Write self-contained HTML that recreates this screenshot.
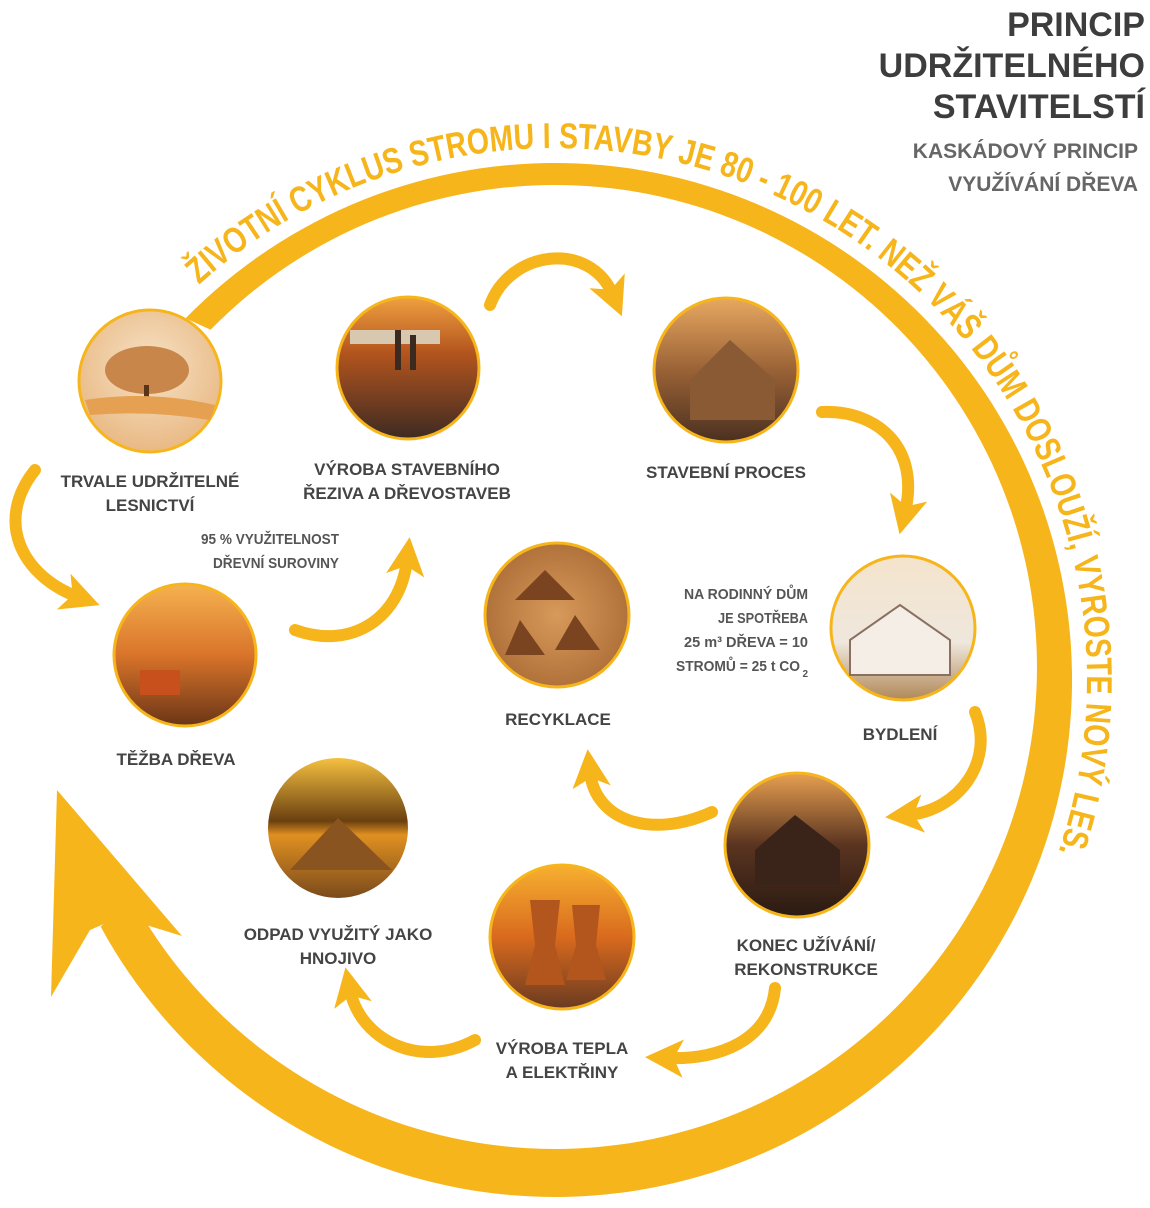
<!DOCTYPE html>
<html><head><meta charset="utf-8"><style>
html,body{margin:0;padding:0;background:#fff;}
body{width:1150px;height:1208px;overflow:hidden;}
svg{display:block;}
.lbl{font-family:"Liberation Sans",sans-serif;font-weight:bold;font-size:17px;fill:#444;text-anchor:middle;}
.note{font-family:"Liberation Sans",sans-serif;font-weight:bold;font-size:15px;fill:#555;text-anchor:end;}
</style></head><body>
<svg width="1150" height="1208" viewBox="0 0 1150 1208">
<defs>
<marker id="ah" markerWidth="3.2" markerHeight="3.2" refX="4" refY="5" viewBox="0 0 10 10" orient="auto" markerUnits="strokeWidth">
<path d="M0,0 L10,5 L0,10 L2.5,5 z" fill="#F7B51C"/></marker>
<radialGradient id="g1" cx="50%" cy="40%" r="60%"><stop offset="0" stop-color="#f6e2c6"/><stop offset="1" stop-color="#e9b984"/></radialGradient>
<linearGradient id="g2" x1="0" y1="0" x2="0" y2="1"><stop offset="0" stop-color="#f0a040"/><stop offset=".4" stop-color="#b2541e"/><stop offset="1" stop-color="#3d2a22"/></linearGradient>
<linearGradient id="g3" x1="0" y1="0" x2="0" y2="1"><stop offset="0" stop-color="#e8a860"/><stop offset=".5" stop-color="#9a6236"/><stop offset="1" stop-color="#4a3020"/></linearGradient>
<linearGradient id="g4" x1="0" y1="0" x2="0" y2="1"><stop offset="0" stop-color="#f4e4cc"/><stop offset=".6" stop-color="#efe7dd"/><stop offset="1" stop-color="#b08858"/></linearGradient>
<linearGradient id="g5" x1="0" y1="0" x2="0" y2="1"><stop offset="0" stop-color="#f5b250"/><stop offset=".5" stop-color="#d9742a"/><stop offset="1" stop-color="#6a3516"/></linearGradient>
<radialGradient id="g6" cx="50%" cy="50%" r="60%"><stop offset="0" stop-color="#d89a5a"/><stop offset="1" stop-color="#a86a34"/></radialGradient>
<linearGradient id="g7" x1="0" y1="0" x2="0" y2="1"><stop offset="0" stop-color="#e8a050"/><stop offset=".5" stop-color="#5a3420"/><stop offset="1" stop-color="#2a1a12"/></linearGradient>
<linearGradient id="g8" x1="0" y1="0" x2="0" y2="1"><stop offset="0" stop-color="#f5c040"/><stop offset=".45" stop-color="#6a4010"/><stop offset=".55" stop-color="#e09020"/><stop offset="1" stop-color="#7a4a1c"/></linearGradient>
<linearGradient id="g9" x1="0" y1="0" x2="0" y2="1"><stop offset="0" stop-color="#f7b030"/><stop offset=".5" stop-color="#d96a1e"/><stop offset="1" stop-color="#6a3a20"/></linearGradient>
<path id="tp" d="M199,284.7 A532,532 0 0 1 1058,853.2" fill="none"/>
</defs>

<path d="M185.6,318.3 A517,517 0 1 1 100.7,926.7 L131.4,897 A482,482 0 1 0 210.6,329.7 Z" fill="#F7B51C"/>
<polygon points="57,790 182,936 120,917 90,930 51,997" fill="#F7B51C"/>
<text font-family="Liberation Sans,sans-serif" font-weight="bold" font-size="36" fill="#F7B51C"><textPath href="#tp" textLength="1400" lengthAdjust="spacingAndGlyphs">ŽIVOTNÍ CYKLUS STROMU I STAVBY JE 80 - 100 LET. NEŽ VÁŠ DŮM DOSLOUŽÍ, VYROSTE NOVÝ LES.</textPath></text>

<g font-family="Liberation Sans,sans-serif" font-weight="bold" text-anchor="end">
<text x="1145" y="36" font-size="34" fill="#3d3d3d">PRINCIP</text>
<text x="1145" y="77" font-size="34" fill="#3d3d3d">UDRŽITELNÉHO</text>
<text x="1145" y="118" font-size="34" fill="#3d3d3d">STAVITELSTÍ</text>
<text x="1138" y="158" font-size="21" fill="#666">KASKÁDOVÝ PRINCIP</text>
<text x="1138" y="191" font-size="21" fill="#666">VYUŽÍVÁNÍ DŘEVA</text>
</g>

<g fill="none" stroke="#F7B51C" stroke-width="12" stroke-linecap="round" marker-end="url(#ah)">
<path d="M35,470 C-5,520 20,575 78,597"/>
<path d="M295,630 C350,650 400,620 407,560"/>
<path d="M490,305 C510,250 590,240 613,295"/>
<path d="M822,412 C880,410 920,450 905,512"/>
<path d="M975,712 C995,760 960,810 908,815"/>
<path d="M712,812 C650,840 595,820 590,772"/>
<path d="M775,988 C770,1040 720,1060 668,1058"/>
<path d="M475,1040 C420,1070 360,1040 350,990"/>
</g>

<g stroke="#F7B51C" stroke-width="3">
<circle cx="150" cy="381" r="71" fill="url(#g1)"/>
<circle cx="408" cy="368" r="71" fill="url(#g2)"/>
<circle cx="726" cy="370" r="72" fill="url(#g3)"/>
<circle cx="903" cy="628" r="72" fill="url(#g4)"/>
<circle cx="185" cy="655" r="71" fill="url(#g5)"/>
<circle cx="557" cy="615" r="72" fill="url(#g6)"/>
<circle cx="797" cy="845" r="72" fill="url(#g7)"/>
<circle cx="338" cy="828" r="70" fill="url(#g8)" stroke="none"/>
<circle cx="562" cy="937" r="72" fill="url(#g9)"/>
</g>
<ellipse cx="147" cy="370" rx="42" ry="24" fill="#c8864a"/>
<rect x="144" y="385" width="5" height="26" fill="#5a3418"/>
<path d="M85,400 Q150,390 215,405 L210,420 Q150,410 90,415z" fill="#e5a052"/>
<rect x="350" y="330" width="90" height="14" fill="#d8c8b0"/>
<rect x="395" y="330" width="6" height="40" fill="#3a2a20"/><rect x="410" y="335" width="6" height="35" fill="#3a2a20"/>
<path d="M690,380 L730,340 L775,380 L775,420 L690,420z" fill="#8a5a34"/>
<path d="M850,640 L900,605 L950,640 L950,675 L850,675z" fill="#f4eee6" stroke="#8a7060" stroke-width="2"/>
<rect x="140" y="670" width="40" height="25" fill="#c8501c"/>
<path d="M515,600 L545,570 L575,600z M575,615 L600,650 L555,650z M520,620 L545,655 L505,655z" fill="#7a4420"/>
<path d="M755,850 L795,815 L840,850 L840,885 L755,885z" fill="#3a241a"/>
<path d="M290,870 L338,818 L392,870z" fill="#8a5420"/>
<path d="M530,900 L560,900 L555,945 L565,985 L525,985 L535,945z" fill="#b2561e"/>
<path d="M572,905 L600,905 L596,945 L606,980 L566,980 L576,945z" fill="#b2561e"/>

<text class="lbl" x="150" y="487">TRVALE UDRŽITELNÉ</text>
<text class="lbl" x="150" y="511">LESNICTVÍ</text>
<text class="lbl" x="407" y="475">VÝROBA STAVEBNÍHO</text>
<text class="lbl" x="407" y="499">ŘEZIVA A DŘEVOSTAVEB</text>
<text class="lbl" x="726" y="478">STAVEBNÍ PROCES</text>
<text class="lbl" x="558" y="725">RECYKLACE</text>
<text class="lbl" x="900" y="740">BYDLENÍ</text>
<text class="lbl" x="176" y="765">TĚŽBA DŘEVA</text>
<text class="lbl" x="338" y="940">ODPAD VYUŽITÝ JAKO</text>
<text class="lbl" x="338" y="964">HNOJIVO</text>
<text class="lbl" x="806" y="951">KONEC UŽÍVÁNÍ/</text>
<text class="lbl" x="806" y="975">REKONSTRUKCE</text>
<text class="lbl" x="562" y="1054">VÝROBA TEPLA</text>
<text class="lbl" x="562" y="1078">A ELEKTŘINY</text>

<text class="note" x="339" y="544" textLength="138" lengthAdjust="spacingAndGlyphs">95 % VYUŽITELNOST</text>
<text class="note" x="339" y="568" textLength="126" lengthAdjust="spacingAndGlyphs">DŘEVNÍ SUROVINY</text>
<text class="note" x="808" y="599" textLength="124" lengthAdjust="spacingAndGlyphs">NA RODINNÝ DŮM</text>
<text class="note" x="808" y="623" textLength="90" lengthAdjust="spacingAndGlyphs">JE SPOTŘEBA</text>
<text class="note" x="808" y="647" textLength="124" lengthAdjust="spacingAndGlyphs">25 m³ DŘEVA = 10</text>
<text class="note" x="800" y="671" textLength="124" lengthAdjust="spacingAndGlyphs">STROMŮ = 25 t CO</text>
<text class="note" x="808" y="677" style="font-size:10px">2</text>
</svg>
</body></html>
